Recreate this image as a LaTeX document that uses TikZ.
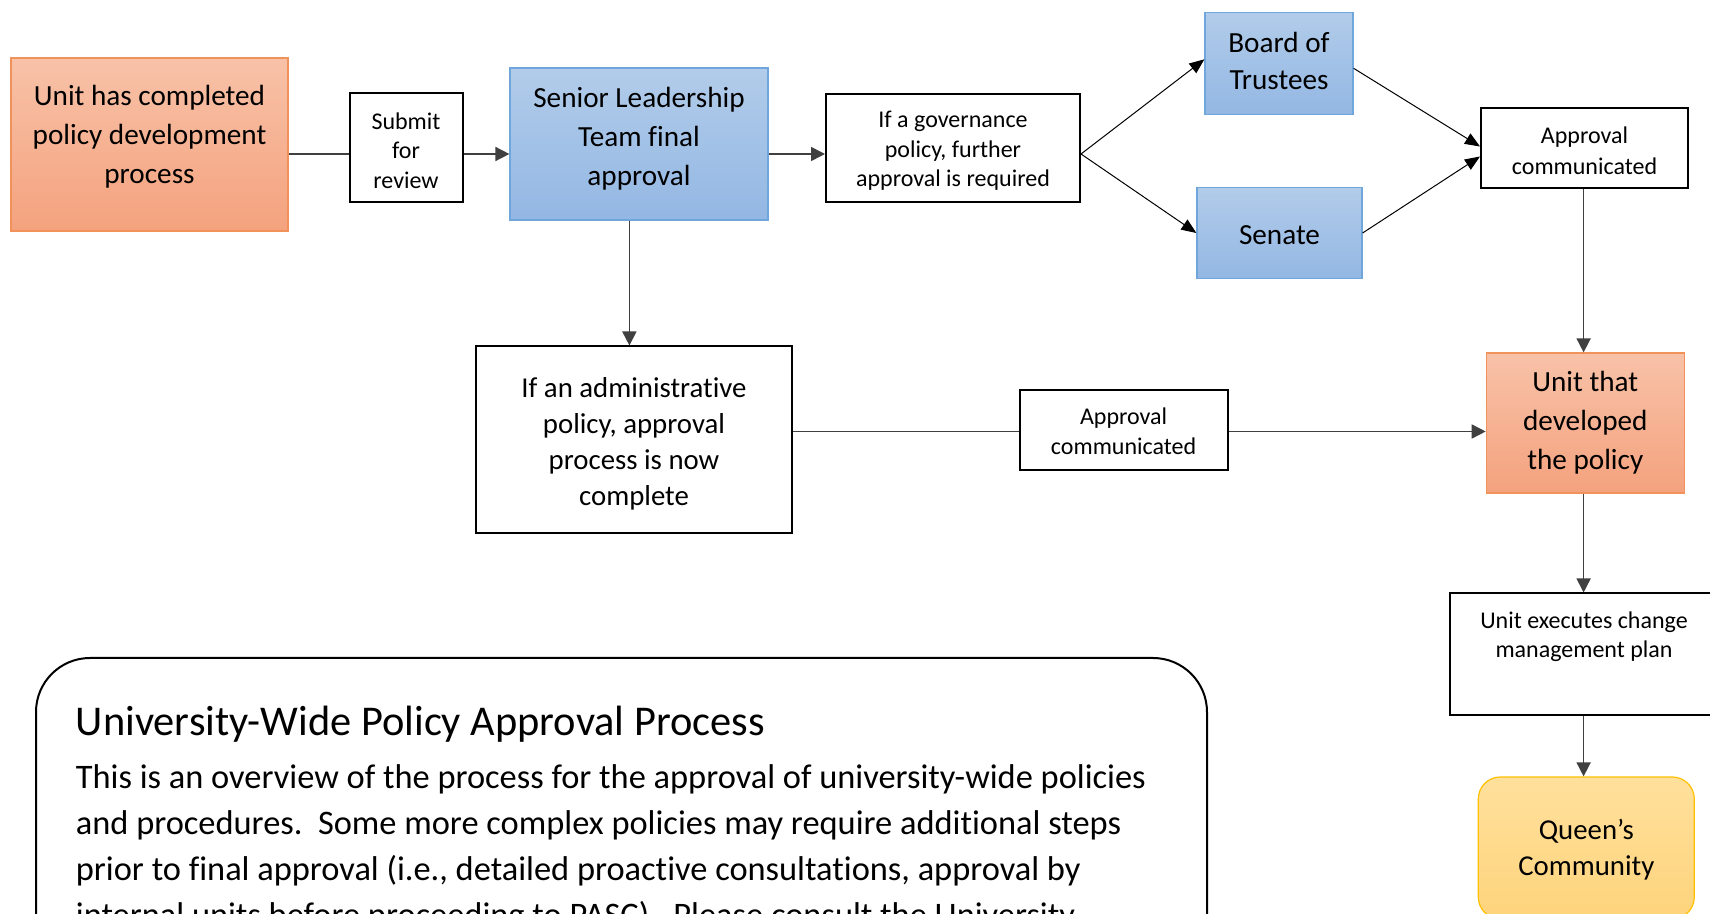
\documentclass[tikz,border=0pt]{standalone}
\usepackage{fontspec}
\setmainfont{Carlito}[Ligatures=NoCommon]
\usetikzlibrary{arrows.meta,calc}
\definecolor{orTop}{HTML}{F8C2A8}
\definecolor{orBot}{HTML}{F4A27E}
\definecolor{orLine}{HTML}{F0925A}
\definecolor{blTop}{HTML}{B2CCEA}
\definecolor{blBot}{HTML}{93B7E3}
\definecolor{blLine}{HTML}{6FA6DC}
\definecolor{yeTop}{HTML}{FFE09C}
\definecolor{yeBot}{HTML}{FED47C}
\definecolor{yeLine}{HTML}{FFC000}
\definecolor{conn}{HTML}{404040}
\tikzset{
  orangebox/.style={rectangle, draw=orLine, line width=0.6pt, top color=orTop, bottom color=orBot, inner sep=0pt},
  bluebox/.style={rectangle, draw=blLine, line width=0.6pt, top color=blTop, bottom color=blBot, inner sep=0pt},
  yellowbox/.style={rectangle, rounded corners=11pt, draw=yeLine, line width=0.6pt, top color=yeTop, bottom color=yeBot, inner sep=0pt},
  plainbox/.style={rectangle, draw=black, line width=1pt, fill=white, inner sep=0pt},
  txt/.style={inner sep=0pt, align=center},
  big/.style={font=\fontsize{14.6}{19.5}\selectfont},
  mid/.style={font=\fontsize{14.4}{18}\selectfont},
  small/.style={font=\fontsize{12}{14.75}\selectfont},
  smallb/.style={font=\fontsize{12}{15.25}\selectfont},
  link/.style={draw=conn, line width=0.8pt},
  arr/.style={link, -{Triangle[length=7pt,width=7pt]}},
  thinarr/.style={draw=black, line width=0.5pt, -{Triangle[length=7.5pt,width=6pt]}}
}
\begin{document}
\begin{tikzpicture}[x=0.5pt,y=-0.5pt]
\useasboundingbox (0,0) rectangle (1710,914);
\clip (0,0) rectangle (1710,914);
\fill[white] (0,0) rectangle (1710,914);

% top row
\node[orangebox, minimum width=138.5pt, minimum height=86.5pt] (unit) at (149.5,144.5) {};
\node[txt, big] (unitT) at (149.5,136.5) {Unit has completed\\policy development\\process};
\node[plainbox, minimum width=56.5pt, minimum height=54.5pt] (submit) at (406,148) {};
\node[txt, small] (submitT) at (406,150.5) {Submit\\for\\review};
\node[bluebox, minimum width=129pt, minimum height=76pt] (slt) at (639,144) {};
\node[txt, big] (sltT) at (639,138.5) {Senior Leadership\\Team final\\approval};
\node[plainbox, minimum width=127pt, minimum height=54pt] (gov) at (953,148) {};
\node[txt, small] (govT) at (953,151) {If a governance\\policy, further\\approval is required};
\node[bluebox, minimum width=74pt, minimum height=51pt] (board) at (1279,63.3) {};
\node[txt, font=\fontsize{14.6}{18.5}\selectfont] (boardT) at (1279,61) {Board of\\Trustees};
\node[bluebox, minimum width=82.5pt, minimum height=45.3pt] (senate) at (1279.5,233) {};
\node[txt, big] (senateT) at (1279.5,235) {Senate};
\node[plainbox, minimum width=103.5pt, minimum height=40.3pt] (app1) at (1584.5,148) {};
\node[txt, smallb] (app1T) at (1584.5,151) {Approval\\communicated};

% middle row
\node[plainbox, minimum width=158pt, minimum height=93.5pt] (admin) at (634,440) {};
\node[txt, mid] (adminT) at (634,444) {If an administrative\\policy, approval\\process is now\\complete};
\node[plainbox, minimum width=104pt, minimum height=40pt] (app2) at (1123.6,430) {};
\node[txt, smallb] (app2T) at (1123.6,431.5) {Approval\\communicated};
\node[orangebox, minimum width=99pt, minimum height=70pt] (dev) at (1585.3,423) {};
\node[txt, big] (devT) at (1585.3,423) {Unit that\\developed\\the policy};

% right column
\node[plainbox, minimum width=134pt, minimum height=61pt] (exec) at (1584,654.5) {};
\node[txt, small] (execT) at (1584,636.5) {Unit executes change\\management plan};
\node[yellowbox, minimum width=108pt, minimum height=71pt] (queen) at (1586.3,848) {};
\node[txt, mid] (queenT) at (1586.3,850) {Queen’s\\Community};

% connectors
\coordinate (row1) at (0,154);
\coordinate (row2) at (0,431.5);
\coordinate (col1) at (629.4,0);
\coordinate (col2) at (1583.6,0);
\draw[link] (unit.east |- row1) -- (submit.west |- row1);
\draw[arr] (submit.east |- row1) -- (slt.west |- row1);
\draw[arr] (slt.east |- row1) -- (gov.west |- row1);
\draw[thinarr] (gov.east |- row1) -- ($(board.west)+(0,-4)$);
\draw[thinarr] (gov.east |- row1) -- (senate.west);
\draw[thinarr] ($(board.east)+(0,5)$) -- ($(app1.west)+(0,-1.5)$);
\draw[thinarr] (senate.east) -- ($(app1.west)+(0,8.5)$);
\draw[arr] (slt.south -| col1) -- (admin.north -| col1);
\draw[link] (admin.east |- row2) -- (app2.west |- row2);
\draw[arr] (app2.east |- row2) -- (dev.west |- row2);
\draw[arr] (app1.south -| col2) -- (dev.north -| col2);
\draw[arr] (dev.south -| col2) -- (exec.north -| col2);
\draw[arr] (exec.south -| col2) -- (queen.north -| col2);

% info box
\node[draw=black, line width=1pt, rounded corners=27pt, minimum width=585.5pt, minimum height=171pt, inner sep=0pt] (info) at (621.5,829) {};
\node[anchor=base west, inner sep=0pt, font=\fontsize{21.2}{25}\selectfont] (title) at (75.5,735) {University-Wide Policy Approval Process};
\node[anchor=north west, inner sep=0pt, align=left, font=\fontsize{17.2}{22.9}\selectfont] (body) at (75.5,764.5) {This is an overview of the process for the approval of university-wide policies\\and procedures.\ \ Some more complex policies may require additional steps\\prior to final approval (i.e., detailed proactive consultations, approval by\\internal units before proceeding to PASC).\ \ Please consult the University};
\end{tikzpicture}
\end{document}
